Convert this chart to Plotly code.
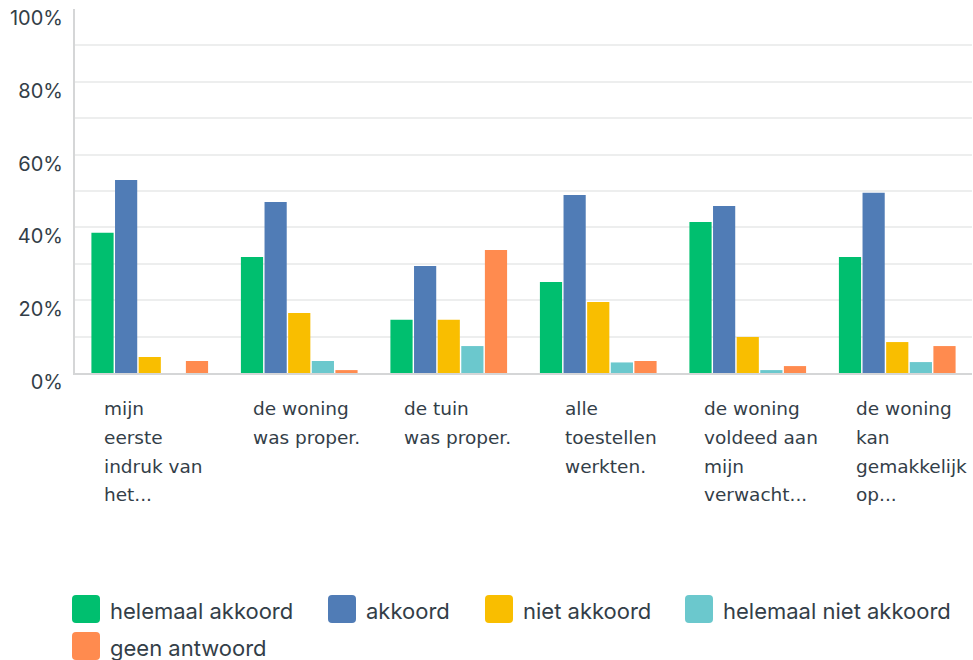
import plotly.graph_objects as go

# Statements, wrapped as they appear under the axis
CATEGORY_LINES = [
    ["mijn", "eerste", "indruk van", "het..."],
    ["de woning", "was proper."],
    ["de tuin", "was proper."],
    ["alle", "toestellen", "werkten."],
    ["de woning", "voldeed aan", "mijn", "verwacht..."],
    ["de woning", "kan", "gemakkelijk", "op..."],
]
CATEGORIES = [" ".join(lines) for lines in CATEGORY_LINES]

SERIES_NAMES = ["helemaal akkoord", "akkoord", "niet akkoord",
                "helemaal niet akkoord", "geen antwoord"]

# Share of answers per statement (%)
helemaal_akkoord = [38.5, 31.9, 14.6, 25.0, 41.5, 31.9]
akkoord = [53.0, 47.0, 29.4, 48.9, 45.9, 49.5]
niet_akkoord = [4.4, 16.5, 14.6, 19.5, 9.9, 8.5]
helemaal_niet_akkoord = [0.0, 3.3, 7.4, 2.9, 0.8, 3.0]
geen_antwoord = [3.3, 0.8, 33.8, 3.3, 1.9, 7.4]
SERIES_VALUES = [helemaal_akkoord, akkoord, niet_akkoord,
                 helemaal_niet_akkoord, geen_antwoord]

Y_TICKS = list(range(0, 101, 10))
Y_TICK_TEXT = [f"{v}%" if v % 20 == 0 else "" for v in Y_TICKS]

COLORS = ["#00BF6F", "#507CB6", "#F9BE00", "#6BC8CD", "#FF8B4F"]
TEXT_COLOR = "#333E48"

W, H = 973, 660
ML, MR, MT, MB = 75, 1, 9, 287
PW, PH = W - ML - MR, H - MT - MB


def px_x(px):
    return (px - ML) / PW


def px_y(py):
    return (H - MB - py) / PH


fig = go.Figure()
for name, vals, col in zip(SERIES_NAMES, SERIES_VALUES, COLORS):
    fig.add_trace(go.Bar(name=name, x=CATEGORIES, y=vals,
                         marker=dict(color=col, line=dict(width=0)),
                         showlegend=False))

annotations = []
# Left-aligned, wrapped category labels
LABEL_NUDGE = [-48, -48, -47, -35, -46, -43]
for cat, lines, nudge in zip(CATEGORIES, CATEGORY_LINES, LABEL_NUDGE):
    for i, line in enumerate(lines):
        annotations.append(dict(
            x=cat, xref="x", xanchor="left", xshift=nudge,
            y=px_y(408 + 29 * i), yref="paper", yanchor="middle",
            text=line, showarrow=False, align="left",
            font=dict(family="DejaVu Sans", size=18.5, color=TEXT_COLOR)))

# Legend with large rounded swatches
LEGEND_POS = [(86, 609), (342, 609), (499, 609), (699, 609), (86, 646)]
shapes = []
half, r = 14, 4
swatch = (f"M{-half + r},{-half} H{half - r} Q{half},{-half} {half},{-half + r} "
          f"V{half - r} Q{half},{half} {half - r},{half} H{-half + r} "
          f"Q{-half},{half} {-half},{half - r} V{-half + r} "
          f"Q{-half},{-half} {-half + r},{-half} Z")
for (cx, cy), name, col in zip(LEGEND_POS, SERIES_NAMES, COLORS):
    shapes.append(dict(type="path", xref="paper", yref="paper",
                       xsizemode="pixel", ysizemode="pixel",
                       xanchor=px_x(cx), yanchor=px_y(cy), path=swatch,
                       fillcolor=col, line=dict(width=0), layer="above"))
    annotations.append(dict(
        x=px_x(cx + half + 8), xref="paper", xanchor="left",
        y=px_y(cy + 2), yref="paper", yanchor="middle",
        text=name, showarrow=False,
        font=dict(family="Inter", size=22, color=TEXT_COLOR)))

fig.update_layout(
    width=W, height=H,
    margin=dict(l=ML, r=MR, t=MT, b=MB, pad=0),
    paper_bgcolor="white", plot_bgcolor="white",
    barmode="group", bargap=0.21, bargroupgap=0.06,
    showlegend=False,
    shapes=shapes, annotations=annotations,
    xaxis=dict(showticklabels=False, showgrid=False, ticks="",
               showline=True, linecolor="#D5D6D7", linewidth=2,
               fixedrange=True),
    yaxis=dict(range=[0, 100], tickvals=Y_TICKS, ticktext=Y_TICK_TEXT,
               showgrid=True, gridcolor="#EDEEEE", gridwidth=2,
               zeroline=False, ticks="",
               showline=True, linecolor="#D5D6D7", linewidth=2,
               ticklabelshift=9, ticklabelstandoff=6,
               tickfont=dict(family="Inter", size=20, color=TEXT_COLOR),
               fixedrange=True),
)

fig.write_html("out.html")
